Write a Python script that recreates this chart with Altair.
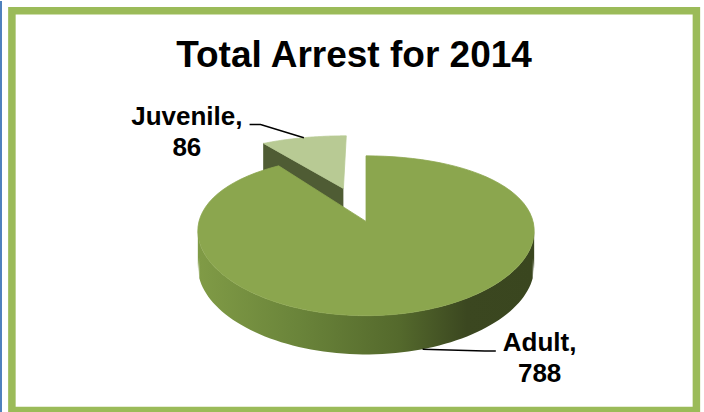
import altair as alt
import pandas as pd

# ---- data ----
categories = ["Adult", "Juvenile"]
values = [788, 86]
title_text = "Total Arrest for 2014"

# ---- style / layout constants ----
CX, CY = 366, 222        # pie centre (pixels)
RX, RY = 167, 80.5       # ellipse radii
KX = 0.12                # horizontal perspective (back narrower)
MY = 0.18                # vertical perspective (back compressed)
D0, D1 = 36, 3           # side depth = D0 + D1*v
EXPLODE = 0.47
N = 90                   # points per arc
FONT = "Liberation Sans"
top_colors = {"Adult": "#8ba64e", "Juvenile": "#b8ca94"}

df = pd.DataFrame({"category": categories, "value": values, "idx": list(range(len(categories)))})

XS = alt.Scale(domain=[0, 704], nice=False, zero=False)
YS = alt.Scale(domain=[0, 412], nice=False, zero=False, reverse=True)
X = alt.X("px:Q", scale=XS, axis=None)
Y = alt.Y("py:Q", scale=YS, axis=None)


def proj(u, v, down="0"):
    """expressions for screen x, y of a point with disc coords (u, v)"""
    px = f"{CX} + {RX}*({u})*(1 + {KX}*({v}))"
    py = f"{CY} + {RY}*(({v}) + {MY}*({v})*({v})) + ({down})*({D0} + {D1}*({v}))"
    return px, py


def base():
    return (
        alt.Chart(df)
        .transform_joinaggregate(total="sum(value)")
        .transform_window(cum="sum(value)", sort=[alt.SortField("idx")], frame=[None, 0])
        .transform_calculate(
            a0="2*PI*(datum.cum - datum.value)/datum.total",
            a1="2*PI*datum.cum/datum.total",
        )
        .transform_calculate(
            amid="(datum.a0 + datum.a1)/2",
            ex=f"datum.category == 'Juvenile' ? {EXPLODE} : 0",
        )
        .transform_calculate(
            ou="datum.ex*sin(datum.amid)",
            ov="-datum.ex*cos(datum.amid)",
        )
    )


# top faces (filled polygon: centre -> arc -> centre)
def top_face(cat):
    px, py = proj("datum.u", "datum.v")
    return (
        base()
        .transform_filter(alt.datum.category == cat)
        .transform_calculate(pts=f"sequence(0, {N + 2})")
        .transform_flatten(["pts"])
        .transform_calculate(
            t=f"datum.a0 + (datum.a1 - datum.a0)*clamp(datum.pts - 1, 0, {N - 1})/({N - 1})",
            edge=f"datum.pts == 0 || datum.pts == {N + 1} ? 0 : 1",
        )
        .transform_calculate(
            u="datum.ou + datum.edge*sin(datum.t)",
            v="datum.ov - datum.edge*cos(datum.t)",
        )
        .transform_calculate(px=px, py=py)
        .mark_line(fill=top_colors[cat], stroke=top_colors[cat], strokeWidth=0.8, interpolate="linear")
        .encode(x=X, y=Y, order=alt.Order("pts:Q"))
    )


# visible radial (cut) faces
rpx, rpy = proj("datum.u", "datum.v", "datum.down")
radial = (
    base()
    .transform_calculate(
        fa="sin(datum.a0) < -0.01 ? datum.a0 : (sin(datum.a1) > 0.01 ? datum.a1 : -1)"
    )
    .transform_filter("datum.fa >= 0")
    .transform_calculate(pts="sequence(0, 4)")
    .transform_flatten(["pts"])
    .transform_calculate(
        edge="datum.pts == 1 || datum.pts == 2 ? 1 : 0",
        down="datum.pts >= 2 ? 1 : 0",
    )
    .transform_calculate(
        u="datum.ou + datum.edge*sin(datum.fa)",
        v="datum.ov - datum.edge*cos(datum.fa)",
    )
    .transform_calculate(px=rpx, py=rpy)
    .mark_line(fill="#4f5c34", stroke="#4f5c34", strokeWidth=0.8)
    .encode(x=X, y=Y, order=alt.Order("pts:Q"), detail="category:N")
)

# curved front side
spx, spy = proj("datum.u", "datum.v")
_, spy2 = proj("datum.u", "datum.v", "1")
side = (
    base()
    .transform_calculate(
        f0="max(datum.a0, PI/2)",
        f1="min(datum.a1, 3*PI/2)",
    )
    .transform_filter("datum.f1 > datum.f0")
    .transform_calculate(pts=f"sequence(0, {N})")
    .transform_flatten(["pts"])
    .transform_calculate(t=f"datum.f0 + (datum.f1 - datum.f0)*datum.pts/({N - 1})")
    .transform_calculate(
        u="datum.ou + sin(datum.t)",
        v="datum.ov - cos(datum.t)",
    )
    .transform_calculate(px=spx, py=spy, py2=spy2)
    .mark_area(
        color=alt.Gradient(
            gradient="linear",
            x1=0, x2=1, y1=0, y2=0,
            stops=[
                alt.GradientStop(color="#809b46", offset=0),
                alt.GradientStop(color="#6a843a", offset=0.3),
                alt.GradientStop(color="#54692c", offset=0.6),
                alt.GradientStop(color="#3b4720", offset=0.8),
                alt.GradientStop(color="#3a461f", offset=1),
            ],
        )
    )
    .encode(x=X, y=Y, y2="py2:Q", detail="category:N")
)

# label anchors
apx, apy = proj("datum.au", "datum.av", "datum.av > 0 ? 1 : 0")
labels_base = (
    base()
    .transform_calculate(
        sgn="sin(datum.amid) > 0 ? 1 : -1",
        au="datum.ou + sin(datum.amid)",
        av="datum.ov - cos(datum.amid)",
        hw="(length(datum.category) + 1)*6.3",
        label="datum.category + ',\\n' + datum.value",
    )
    .transform_calculate(ax=apx, ay=apy)
    .transform_calculate(
        lx="datum.ax + datum.sgn*117",
        ly="datum.ay + 2 - 16*max(cos(datum.amid), 0)",
    )
    .transform_calculate(
        endx="datum.lx - datum.sgn*(datum.hw + 6)",
    )
)

leaders = (
    labels_base
    .transform_calculate(pts="sequence(0, 3)")
    .transform_flatten(["pts"])
    .transform_calculate(
        px="datum.pts == 0 ? datum.ax : (datum.pts == 1 ? datum.endx - datum.sgn*11 : datum.endx)",
        py="datum.pts == 0 ? datum.ay : datum.ly",
    )
    .mark_line(color="black", strokeWidth=1.5)
    .encode(x=X, y=Y, order=alt.Order("pts:Q"), detail="category:N")
)

label_text = labels_base.mark_text(
    font=FONT, fontSize=26, fontWeight="bold", color="black",
    align="center", baseline="alphabetic", lineBreak="\n", lineHeight=31,
).encode(
    x=alt.X("lx:Q", scale=XS, axis=None),
    y=alt.Y("ly:Q", scale=YS, axis=None),
    text="label:N",
)

title = alt.Chart(pd.DataFrame({"t": [title_text]})).mark_text(
    font=FONT, fontSize=37, fontWeight="bold", color="black", align="center", baseline="alphabetic"
).encode(x=alt.value(354), y=alt.value(66), text="t:N")

frame = alt.Chart(pd.DataFrame({"f": [0]})).mark_rect(
    fill=None, fillOpacity=0, stroke="#9bbb59", strokeWidth=7.5
).encode(x=alt.value(11.9), x2=alt.value(696.4), y=alt.value(9.7), y2=alt.value(409.5))

blue = alt.Chart(pd.DataFrame({"f": [0]})).mark_rule(color="#4f81bd", strokeWidth=2).encode(
    x=alt.value(1), y=alt.value(0), y2=alt.value(412)
)

chart = (
    alt.layer(
        blue, frame, radial, top_face("Juvenile"), side, top_face("Adult"),
        leaders, label_text, title,
    )
    .properties(
        width=704, height=412, padding=0,
        autosize=alt.AutoSizeParams(type="fit", contains="padding"),
        background="white",
    )
    .configure_view(stroke=None)
)

chart.save("out.html", embed_options={"renderer": "svg", "actions": False})
